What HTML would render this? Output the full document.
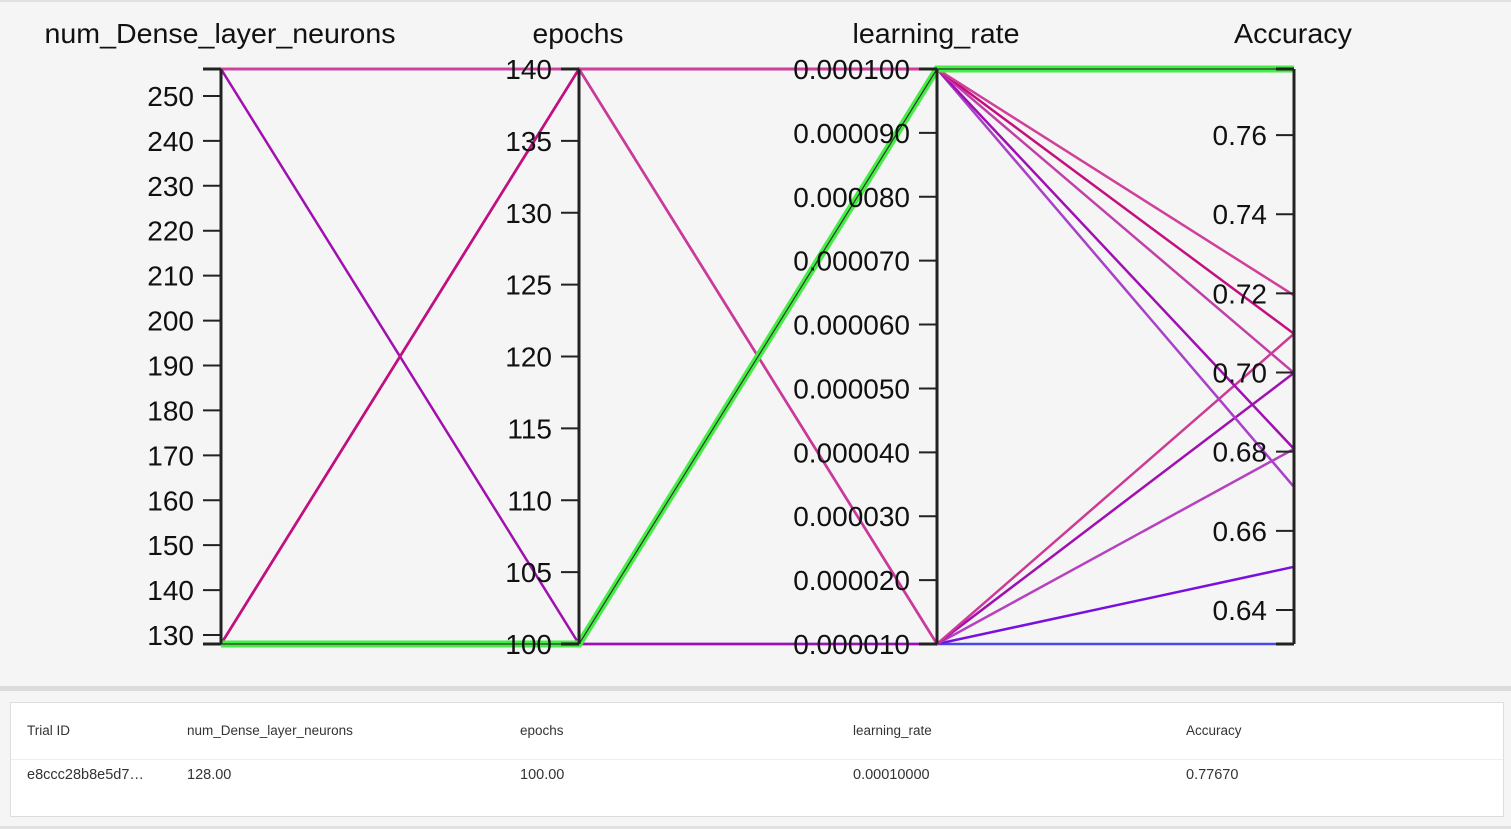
<!DOCTYPE html>
<html><head><meta charset="utf-8"><style>
body{margin:0;width:1511px;height:829px;background:#f5f5f5;font-family:"Liberation Sans",sans-serif;overflow:hidden;position:relative}
#top{position:absolute;left:0;top:0;width:1511px;height:2px;background:#e0e0e0}
#div{position:absolute;left:0;top:686px;width:1511px;height:5px;background:#dcdcdc}
#tbl{position:absolute;left:10px;top:702px;width:1492px;height:113px;background:#fff;border:1px solid #ddd;font-size:13.5px;color:#333}
.c{position:absolute}
#sep{position:absolute;left:0;top:56px;width:100%;height:1px;background:#eee}
#bot{position:absolute;left:0;top:826px;width:1511px;height:3px;background:#e0e0e0}
</style></head><body>
<div id="top"></div>
<svg id="chart" width="1511" height="686" style="position:absolute;left:0;top:0"></svg>
<div id="div"></div>
<div id="tbl">
<div class="c" style="left:16px;top:20px">Trial ID</div>
<div class="c" style="left:176px;top:20px">num_Dense_layer_neurons</div>
<div class="c" style="left:509px;top:20px">epochs</div>
<div class="c" style="left:842px;top:20px">learning_rate</div>
<div class="c" style="left:1175px;top:20px">Accuracy</div>
<div id="sep"></div>
<div class="c" style="left:16px;top:64px;font-size:14.5px">e8ccc28b8e5d7…</div>
<div class="c" style="left:176px;top:64px;font-size:14.5px">128.00</div>
<div class="c" style="left:509px;top:64px;font-size:14.5px">100.00</div>
<div class="c" style="left:842px;top:64px;font-size:14.5px">0.00010000</div>
<div class="c" style="left:1175px;top:64px;font-size:14.5px">0.77670</div>
</div>
<div id="bot"></div>
<script>
const dims=["num_Dense_layer_neurons","epochs","learning_rate","Accuracy"];
const neurons=[256,128,128,128,256,128,256,128,256,128];
const epochs=[140,140,100,140,140,140,100,140,140,100];
const lrs=[0.0001,0.0001,0.0001,0.0001,0.0001,0.00001,0.00001,0.00001,0.00001,0.00001];
const acc=[0.7195,0.7098,0.6999,0.6807,0.6711,0.7098,0.6999,0.6807,0.6509,0.6314];
const colors=["#d0409a","#c4107e","#c040a8","#a010b0","#a840c8","#cc3a96","#a010b0","#b640c0","#7a10e0","#4848e8"];
const best={n:128,e:100,l:0.0001,a:0.7767};
const nTicks=[130,140,150,160,170,180,190,200,210,220,230,240,250];
const eTicks=[100,105,110,115,120,125,130,135,140];
const lTicks=[0.00001,0.00002,0.00003,0.00004,0.00005,0.00006,0.00007,0.00008,0.00009,0.0001];
const aTicks=[0.64,0.66,0.68,0.70,0.72,0.74,0.76];
const Y0=644,Y1=69,X=[221,579,937,1294];
const lin=(d0,d1)=>v=>Y0+(v-d0)/(d1-d0)*(Y1-Y0);
const sc=[lin(128,256),lin(100,140),lin(0.00001,0.0001),lin(0.6314,0.7767)];
const svg=document.getElementById('chart');const NS="http://www.w3.org/2000/svg";
function mk(t,a){const e=document.createElementNS(NS,t);for(const k in a)e.setAttribute(k,a[k]);svg.appendChild(e);return e;}
function poly(vals,color,w){const p=vals.map((v,i)=>X[i]+","+sc[i](v)).join(" ");return mk('polyline',{points:p,fill:"none",stroke:color,"stroke-width":w});}
for(let i=acc.length-1;i>=0;i--){
 const pl=poly([neurons[i],epochs[i],lrs[i],acc[i]],colors[i],2.5);
 
 
}
const bg=poly([best.n,best.e,best.l,best.a],"#44ee44",7);


const bl=poly([best.n,best.e,best.l,best.a],"#333",1.2);


const ticks=[nTicks,eTicks,lTicks,aTicks];
const fmt=[v=>v,v=>v,v=>v.toFixed(6),v=>v.toFixed(2)];
dims.forEach((d,i)=>{
 const ax=mk('line',{x1:X[i],x2:X[i],y1:Y1,y2:Y0,stroke:"#222","stroke-width":3});
 
 
 [Y1,Y0].forEach(y=>mk('line',{x1:X[i]-18,x2:X[i],y1:y,y2:y,stroke:"#222","stroke-width":3}));
 const t=mk('text',{x:[220,578,936,1293][i],y:43,"text-anchor":"middle","font-size":28,fill:"#111",textLength:[351,91,167,118][i],lengthAdjust:"spacingAndGlyphs"});
 t.textContent=d;
 
 
 ticks[i].forEach(v=>{
  const y=sc[i](v);
  mk('line',{x1:X[i]-18,x2:X[i],y1:y,y2:y,stroke:"#222","stroke-width":2});
  const l=mk('text',{x:X[i]-27,y:y+10,"text-anchor":"end","font-size":28,fill:"#111"});
  l.textContent=fmt[i](v);
  
  
 });
});
</script>
</body></html>
